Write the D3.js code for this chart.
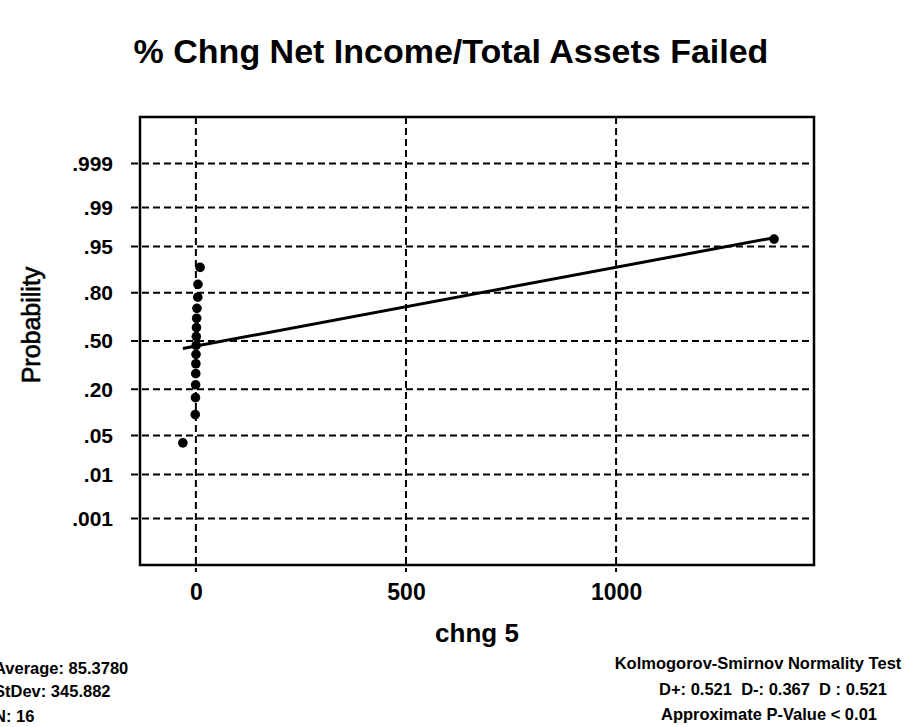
<!DOCTYPE html>
<html><head><meta charset="utf-8">
<script src="https://cdn.jsdelivr.net/npm/d3@7"></script>
<style>
body{margin:0;background:#fff}
text{font-family:"Liberation Sans",Arial,Helvetica,sans-serif;fill:#000}
</style>
</head><body>
<svg id="c" width="912" height="727"></svg>
<script>
// ---------- data ----------
const title = "% Chng Net Income/Total Assets Failed";
const xLabel = "chng 5";
const yLabel = "Probability";
const values = [-31, -1.5, -1, -0.6, -0.3, 0, 0.3, 0.6, 1, 1.4, 1.9, 2.5, 4.5, 5, 10, 1376];
// plotted cumulative probabilities of the points
const probs = [0.038, 0.100, 0.162, 0.223, 0.285, 0.346, 0.408, 0.469, 0.531, 0.592, 0.654, 0.715, 0.777, 0.838, 0.900, 0.962];
const probTicks = [0.001, 0.01, 0.05, 0.20, 0.50, 0.80, 0.95, 0.99, 0.999];
const probTickLabels = [".001", ".01", ".05", ".20", ".50", ".80", ".95", ".99", ".999"];
const xTicks = [0, 500, 1000];
const xTickLabels = ["0", "500", "1000"];
// fitted reference line endpoints
const fitX = [-31, 1376];
const fitP = [0.448, 0.964];
const statsLeft = ["Average: 85.3780", "StDev: 345.882", "N: 16"];
const statsRight = ["Kolmogorov-Smirnov Normality Test", "D+: 0.521  D-: 0.367  D : 0.521", "Approximate P-Value < 0.01"];

// ---------- inverse normal ----------
function probit(p){
  const a=[-3.969683028665376e+01,2.209460984245205e+02,-2.759285104469687e+02,1.383577518672690e+02,-3.066479806614716e+01,2.506628277459239e+00];
  const b=[-5.447609879822406e+01,1.615858368580409e+02,-1.556989798598866e+02,6.680131188771972e+01,-1.328068155288572e+01];
  const c=[-7.784894002430293e-03,-3.223964580411365e-01,-2.400758277161838e+00,-2.549732539343734e+00,4.374664141464968e+00,2.938163982698783e+00];
  const d=[7.784695709041462e-03,3.224671290700398e-01,2.445134137142996e+00,3.754408661907416e+00];
  const pl=0.02425, ph=1-pl;
  let q,r;
  if(p<pl){q=Math.sqrt(-2*Math.log(p));
    return (((((c[0]*q+c[1])*q+c[2])*q+c[3])*q+c[4])*q+c[5])/((((d[0]*q+d[1])*q+d[2])*q+d[3])*q+1);}
  if(p<=ph){q=p-0.5;r=q*q;
    return (((((a[0]*r+a[1])*r+a[2])*r+a[3])*r+a[4])*r+a[5])*q/(((((b[0]*r+b[1])*r+b[2])*r+b[3])*r+b[4])*r+1);}
  q=Math.sqrt(-2*Math.log(1-p));
  return -(((((c[0]*q+c[1])*q+c[2])*q+c[3])*q+c[4])*q+c[5])/((((d[0]*q+d[1])*q+d[2])*q+d[3])*q+1);
}

// ---------- layout ----------
const L=140, R=814, T=117, B=565;
const svg = d3.select("#c");
const x = d3.scaleLinear().domain([-133, 1471]).range([L, R]);
const y = d3.scaleLinear().domain([-3.9, 3.9]).range([B, T]);

// title
svg.append("text").attr("x", 451).attr("y", 63).attr("text-anchor","middle")
  .attr("font-size", 34).attr("font-weight","bold").text(title);

// gridlines
const grid = svg.append("g").attr("stroke","#000").attr("stroke-width",2).attr("stroke-dasharray","7,4");
grid.selectAll("line.h").data(probTicks).join("line").attr("class","h")
  .attr("x1", L-9).attr("x2", R).attr("y1", d=>y(probit(d))).attr("y2", d=>y(probit(d)));
grid.selectAll("line.v").data(xTicks).join("line").attr("class","v")
  .attr("x1", d=>x(d)).attr("x2", d=>x(d)).attr("y1", T).attr("y2", B+7);

// frame
svg.append("rect").attr("x",L).attr("y",T).attr("width",R-L).attr("height",B-T)
  .attr("fill","none").attr("stroke","#000").attr("stroke-width",2.5);

// axes (labels)
const yAxis = d3.axisLeft(y).tickValues(probTicks.map(probit))
  .tickFormat((d,i)=>probTickLabels[i]).tickSize(0).tickPadding(27);
const gy = svg.append("g").attr("transform",`translate(${L},0)`).call(yAxis);
gy.select(".domain").remove();
gy.selectAll("text").attr("font-size",21).attr("font-weight","bold")
  .attr("font-family",'"Liberation Sans",Arial,sans-serif');

const xAxis = d3.axisBottom(x).tickValues(xTicks)
  .tickFormat((d,i)=>xTickLabels[i]).tickSize(0).tickPadding(19);
const gx = svg.append("g").attr("transform",`translate(0,${B})`).call(xAxis);
gx.select(".domain").remove();
gx.selectAll("text").attr("font-size",23).attr("font-weight","bold")
  .attr("font-family",'"Liberation Sans",Arial,sans-serif');

// axis titles
svg.append("text").attr("x",477).attr("y",642).attr("text-anchor","middle")
  .attr("font-size",26).attr("font-weight","bold").text(xLabel);
svg.append("text").attr("transform","translate(40,325) rotate(-90)").attr("text-anchor","middle")
  .attr("font-size",25).attr("stroke","#000").attr("stroke-width",0.6).text(yLabel);

// fit line
svg.append("line")
  .attr("x1", x(fitX[0])).attr("y1", y(probit(fitP[0])))
  .attr("x2", x(fitX[1])).attr("y2", y(probit(fitP[1])))
  .attr("stroke","#000").attr("stroke-width",3);

// points
svg.append("g").selectAll("circle").data(values).join("circle")
  .attr("cx", d=>x(d)).attr("cy", (d,i)=>y(probit(probs[i]))).attr("r",4.8).attr("fill","#000");

// stats
const sl = svg.append("g").attr("font-size",16.5).attr("font-weight","bold");
const leftY = [674, 697, 722];
statsLeft.forEach((t,i)=> sl.append("text").attr("x",-6).attr("y",leftY[i]).text(t));
const rightY = [669, 695, 720];
const rightX = [758, 773, 769];
statsRight.forEach((t,i)=> sl.append("text").attr("x",rightX[i]).attr("y",rightY[i])
  .attr("text-anchor","middle").style("white-space","pre").text(t));
</script>
</body></html>
